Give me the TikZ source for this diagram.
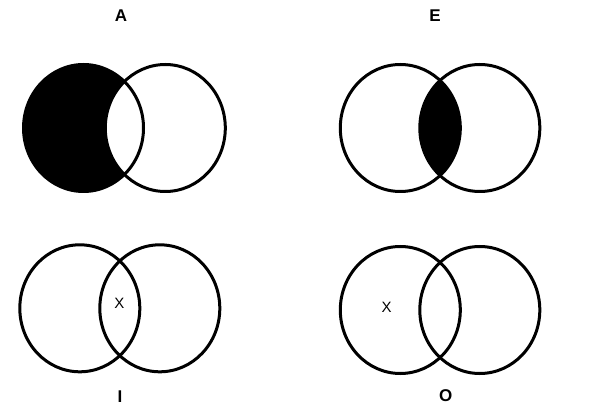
\documentclass[tikz,border=0pt]{standalone}
\usepackage{fontspec}
\setmainfont{Liberation Sans}
\begin{document}
\begin{tikzpicture}[x=1pt,y=-1pt,
  ring/.style={line width=3pt,draw=black},
  title/.style={font=\fontsize{17}{20}\selectfont\bfseries,inner sep=0pt},
  mark x/.style={font=\fontsize{15}{18}\selectfont,inner sep=0pt}]
\useasboundingbox[fill=white] (0,0) rectangle (593,411);
\def\rx{60}\def\ry{63.5}
% A
\fill[black] (83.5,128) ellipse [x radius=\rx,y radius=\ry];
\fill[white] (165.3,128) ellipse [x radius=\rx,y radius=\ry];
\draw[ring] (83.5,128) ellipse [x radius=\rx,y radius=\ry];
\draw[ring] (165.3,128) ellipse [x radius=\rx,y radius=\ry];
\node[title] (labA) at (121,15.5) {A};
% E
\begin{scope}
\clip (400.3,128) ellipse [x radius=\rx,y radius=\ry];
\fill[black] (479.8,128) ellipse [x radius=\rx,y radius=\ry];
\end{scope}
\draw[ring] (400.3,128) ellipse [x radius=\rx,y radius=\ry];
\draw[ring] (479.8,128) ellipse [x radius=\rx,y radius=\ry];
\node[title] (labE) at (435,16) {E};
% I
\draw[ring] (79.8,308.3) ellipse [x radius=\rx,y radius=\ry];
\draw[ring] (159.8,308.3) ellipse [x radius=\rx,y radius=\ry];
\node[mark x] (xI) at (119.5,303.7) {X};
\node[title] (labI) at (120,396.5) {I};
% O
\draw[ring] (400.3,310) ellipse [x radius=\rx,y radius=\ry];
\draw[ring] (479.8,310) ellipse [x radius=\rx,y radius=\ry];
\node[mark x] (xO) at (386.7,307.3) {X};
\node[title] (labO) at (445.8,396) {O};
\end{tikzpicture}
\end{document}
